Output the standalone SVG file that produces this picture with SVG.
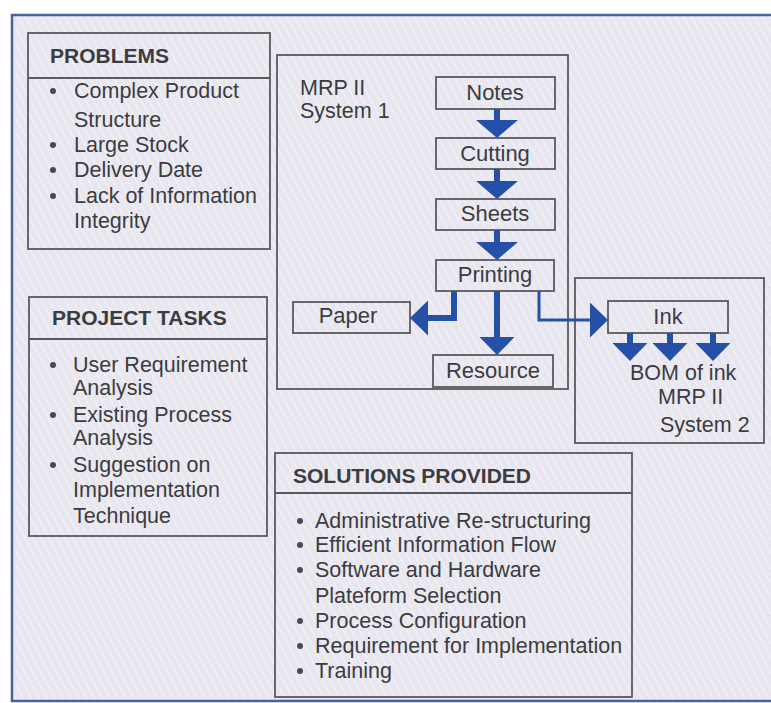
<svg xmlns="http://www.w3.org/2000/svg" width="771" height="703" viewBox="0 0 771 703">
<defs>
<pattern id="hatch" patternUnits="userSpaceOnUse" width="7" height="7" patternTransform="rotate(-28)">
<rect width="7" height="7" fill="#e8e7f0"/>
<line x1="0" y1="0" x2="0" y2="7" stroke="#f6f5fa" stroke-width="1.6"/>
</pattern>
<marker id="hd" viewBox="0 0 18 42" markerUnits="userSpaceOnUse" markerWidth="18" markerHeight="42" refX="0" refY="21" orient="auto">
<path d="M0,0 L18,21 L0,42 Z" fill="#2450a8"/>
</marker>
<marker id="hm" viewBox="0 0 18 35" markerUnits="userSpaceOnUse" markerWidth="18" markerHeight="35" refX="0" refY="17.5" orient="auto">
<path d="M0,0 L18,17.5 L0,35 Z" fill="#2450a8"/>
</marker>
</defs>
<style>
.box{fill:none;stroke:#5a5a5e;stroke-width:1.8}
.sep{stroke:#5a5a5e;stroke-width:1.8}
.t{font-family:"Liberation Sans",Arial,sans-serif;font-size:21.5px;fill:#3c3c40}
.h{font-family:"Liberation Sans",Arial,sans-serif;font-size:21px;font-weight:bold;fill:#3c3c40}
.n{font-family:"Liberation Sans",Arial,sans-serif;font-size:22px;fill:#3c3c40;text-anchor:middle}
.b{fill:#4a4a4e}
.a{fill:none;stroke:#2450a8;stroke-width:6}
.a2{fill:none;stroke:#2450a8;stroke-width:3}
</style>
<rect width="771" height="703" fill="#ffffff"/>
<rect x="12" y="15" width="800" height="686" fill="url(#hatch)" stroke="#4563a8" stroke-width="2.5"/>

<g id="problems">
<rect class="box" x="28" y="33" width="242" height="216"/>
<line class="sep" x1="28" y1="78" x2="270" y2="78"/>
<text class="h" x="50" y="63">PROBLEMS</text>
<circle class="b" cx="53" cy="91" r="3"/>
<text class="t" x="74" y="98">Complex Product</text>
<text class="t" x="74" y="127">Structure</text>
<circle class="b" cx="53" cy="145" r="3"/>
<text class="t" x="74" y="152">Large Stock</text>
<circle class="b" cx="53" cy="170" r="3"/>
<text class="t" x="74" y="177">Delivery Date</text>
<circle class="b" cx="53" cy="196" r="3"/>
<text class="t" x="74" y="203">Lack of Information</text>
<text class="t" x="74" y="228">Integrity</text>
</g>

<g id="tasks">
<rect class="box" x="29" y="297" width="238" height="239"/>
<line class="sep" x1="29" y1="339" x2="267" y2="339"/>
<text class="h" x="52" y="325">PROJECT TASKS</text>
<circle class="b" cx="53" cy="365" r="3"/>
<text class="t" x="73" y="372">User Requirement</text>
<text class="t" x="73" y="395">Analysis</text>
<circle class="b" cx="53" cy="415" r="3"/>
<text class="t" x="73" y="422">Existing Process</text>
<text class="t" x="73" y="445">Analysis</text>
<circle class="b" cx="53" cy="465" r="3"/>
<text class="t" x="73" y="472">Suggestion on</text>
<text class="t" x="73" y="497">Implementation</text>
<text class="t" x="73" y="523">Technique</text>
</g>

<g id="system1">
<rect class="box" x="277" y="55" width="291" height="334"/>
<text class="t" x="300" y="95">MRP II</text>
<text class="t" x="300" y="118">System 1</text>
</g>

<g id="notes"><rect class="box" x="436" y="77" width="119" height="32"/><text class="n" x="495" y="100">Notes</text></g>
<g id="cutting"><rect class="box" x="436" y="138" width="119" height="31"/><text class="n" x="495" y="161">Cutting</text></g>
<g id="sheets"><rect class="box" x="436" y="199" width="119" height="31"/><text class="n" x="495" y="221">Sheets</text></g>
<g id="printing"><rect class="box" x="436" y="260" width="118" height="31"/><text class="n" x="495" y="282">Printing</text></g>
<g id="paper"><rect class="box" x="293" y="302" width="117" height="31"/><text class="n" x="348" y="323">Paper</text></g>
<g id="resource"><rect class="box" x="433" y="355" width="120" height="32"/><text class="n" x="493" y="378">Resource</text></g>

<g id="system2">
<rect class="box" x="575" y="278" width="189" height="165"/>
<text class="t" x="630" y="380">BOM of ink</text>
<text class="t" x="658" y="404">MRP II</text>
<text class="t" x="660" y="432">System 2</text>
</g>
<g id="ink"><rect class="box" x="608" y="301" width="120" height="32"/><text class="n" x="668" y="324">Ink</text></g>

<g id="solutions">
<rect class="box" x="275" y="453" width="357" height="244"/>
<line class="sep" x1="275" y1="493" x2="632" y2="493"/>
<text class="h" x="293" y="483">SOLUTIONS PROVIDED</text>
<circle class="b" cx="300" cy="521" r="3"/>
<text class="t" x="315" y="528">Administrative  Re-structuring</text>
<circle class="b" cx="300" cy="545" r="3"/>
<text class="t" x="315" y="552">Efficient Information Flow</text>
<circle class="b" cx="300" cy="570" r="3"/>
<text class="t" x="315" y="577">Software and Hardware</text>
<text class="t" x="315" y="603">Plateform Selection</text>
<circle class="b" cx="300" cy="621" r="3"/>
<text class="t" x="315" y="628">Process Configuration</text>
<circle class="b" cx="300" cy="646" r="3"/>
<text class="t" x="315" y="653">Requirement for Implementation</text>
<circle class="b" cx="300" cy="671" r="3"/>
<text class="t" x="315" y="678">Training</text>
</g>

<g id="connectors">
<path class="a" d="M497,109 V120" marker-end="url(#hd)"/>
<path class="a" d="M497,169 V181" marker-end="url(#hd)"/>
<path class="a" d="M497,230 V242" marker-end="url(#hd)"/>
<path class="a" d="M497,291 V337" marker-end="url(#hm)"/>
<path class="a" d="M454,291 V318 H428" marker-end="url(#hm)"/>
<path class="a2" d="M539,291 V320 H590" marker-end="url(#hm)"/>
<path class="a" d="M630,333 V343" marker-end="url(#hm)"/>
<path class="a" d="M670,333 V343" marker-end="url(#hm)"/>
<path class="a" d="M713,333 V343" marker-end="url(#hm)"/>
</g>
</svg>
